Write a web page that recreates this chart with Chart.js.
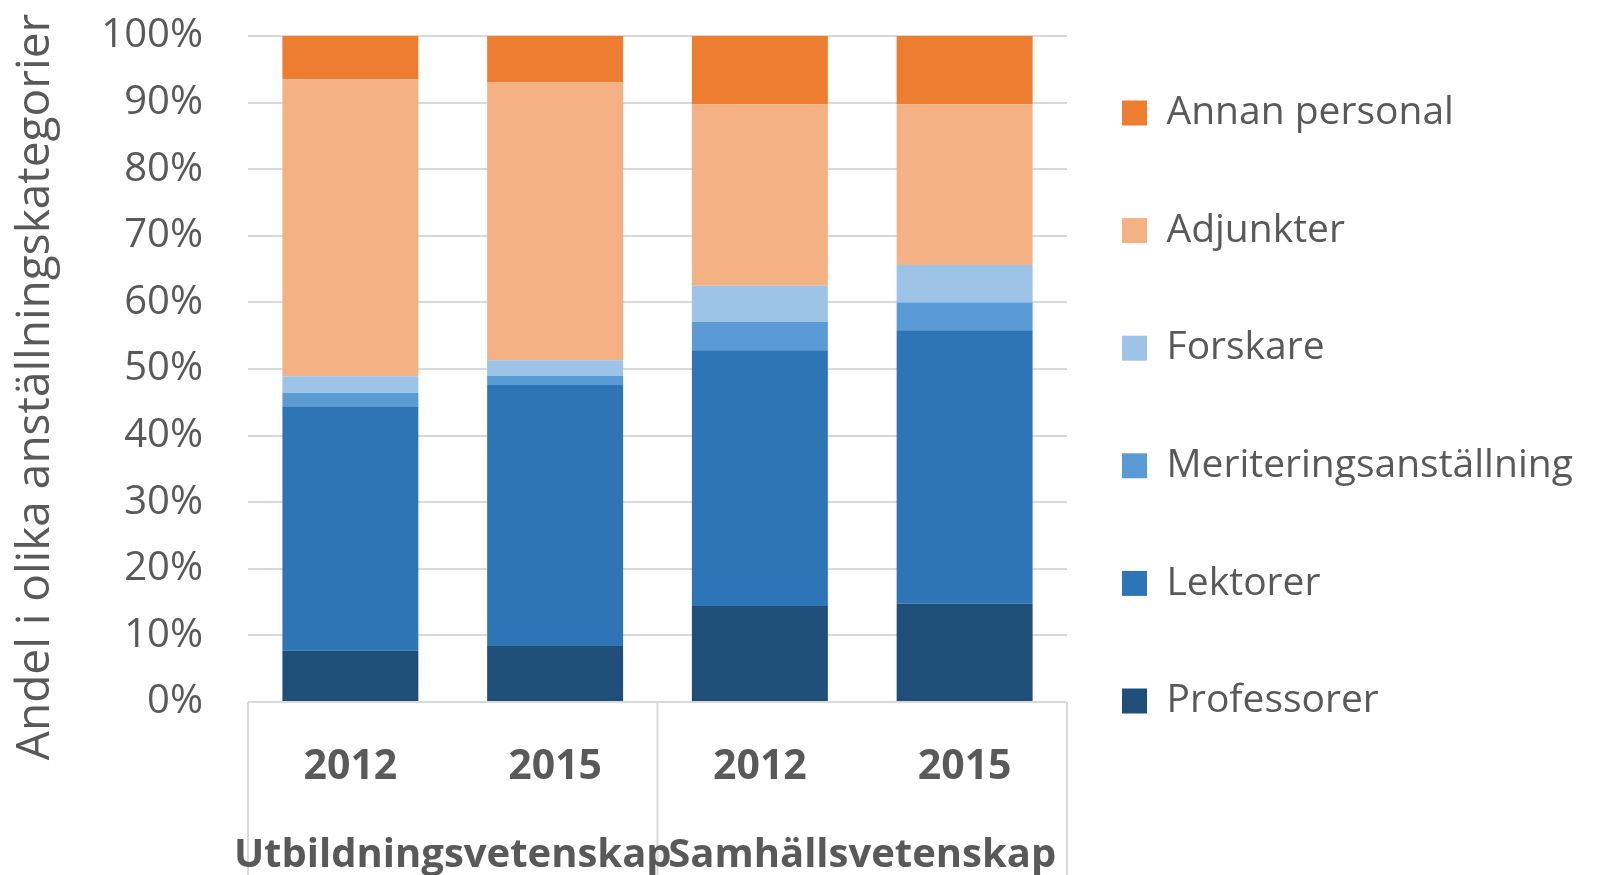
<!DOCTYPE html>
<html>
<head>
<meta charset="utf-8">
<script src="https://cdn.jsdelivr.net/npm/chart.js@4.4.1/dist/chart.umd.min.js"></script>
<style>
  html, body { margin: 0; padding: 0; background: #ffffff; }
  canvas { display: block; }
</style>
</head>
<body>
<canvas id="c" width="1604" height="875"></canvas>
<script>
// ---- data ----
const years = ['2012', '2015', '2012', '2015'];
const groups = ['Utbildningsvetenskap', 'Samhällsvetenskap'];
const seriesNames = ['Professorer', 'Lektorer', 'Meriteringsanställning', 'Forskare', 'Adjunkter', 'Annan personal'];
const professorer = [7.7, 8.4, 14.4, 14.8];
const lektorer = [36.6, 39.2, 38.4, 41.0];
const meritering = [2.1, 1.4, 4.3, 4.2];
const forskare = [2.5, 2.3, 5.4, 5.6];
const adjunkter = [44.6, 41.7, 27.2, 24.1];
const annan = [6.5, 7.0, 10.3, 10.3];
const yTicks = [0, 10, 20, 30, 40, 50, 60, 70, 80, 90, 100];
const yTitle = 'Andel i olika anställningskategorier';

const colors = ['#1F4E79', '#2E75B6', '#5B9BD5', '#9DC3E6', '#F4B183', '#ED7D31'];
const seriesValues = [professorer, lektorer, meritering, forskare, adjunkter, annan];
const TEXT = '#595959';
const GRID = '#d9d9d9';
const FONT = "'Open Sans', 'Noto Sans', sans-serif";

const datasets = seriesNames.map((name, i) => ({
  label: name,
  data: seriesValues[i],
  backgroundColor: colors[i],
  borderWidth: 0,
  barPercentage: 0.664,
  categoryPercentage: 1.0,
  xAxisID: 'x',
  yAxisID: 'y'
}));

const LEGEND_LEFT = 1112;

// legend width control + separator lines
const layoutPlugin = {
  id: 'layoutTweaks',
  beforeUpdate(chart) {
    const lg = chart.legend;
    if (lg && !lg._patched) {
      const fit = lg.fit;
      lg.fit = function () { fit.call(this); this.width = 1604 - LEGEND_LEFT; };
      lg._patched = true;
    }
  },
  beforeDraw(chart) {
    const x = chart.scales.x;
    const ca = chart.chartArea;
    const mid = (x.getPixelForValue(1) + x.getPixelForValue(2)) / 2;
    const ctx = chart.ctx;
    ctx.save();
    ctx.strokeStyle = GRID;
    ctx.lineWidth = 2;
    [x.left, mid, x.right].forEach(px => {
      ctx.beginPath();
      ctx.moveTo(px, ca.bottom);
      ctx.lineTo(px, chart.height);
      ctx.stroke();
    });
    ctx.restore();
  }
};

new Chart(document.getElementById('c'), {
  type: 'bar',
  data: { labels: years, datasets },
  options: {
    responsive: false,
    devicePixelRatio: 1,
    animation: false,
    layout: { padding: { top: 36, left: 0, right: 0, bottom: 0 } },
    plugins: {
      tooltip: { enabled: false },
      legend: {
        position: 'right',
        align: 'start',
        reverse: true,
        title: { display: true, text: '', font: { size: 10, lineHeight: 1 }, padding: { top: 37.5, bottom: 0 } },
        labels: {
          color: TEXT,
          boxWidth: 25,
          boxHeight: 25,
          padding: 10,
          font: { family: FONT, size: 39, lineHeight: 107.6 / 39 },
          generateLabels(chart) {
            return chart.data.datasets.map((ds, i) => ({
              text: [ds.label],
              fillStyle: ds.backgroundColor,
              strokeStyle: ds.backgroundColor,
              lineWidth: 0,
              hidden: false,
              datasetIndex: i,
              fontColor: TEXT
            }));
          }
        }
      }
    },
    scales: {
      x: {
        type: 'category',
        position: 'bottom',
        stacked: true,
        weight: 0,
        grid: { display: false },
        border: { display: false },
        ticks: { color: TEXT, padding: 32.5, autoSkip: false, maxRotation: 0, minRotation: 0,
                 font: { family: FONT, size: 41, weight: 'bold' } },
        afterFit(s) { s.height = 86.6; }
      },
      x2: {
        type: 'category',
        position: 'bottom',
        labels: groups,
        offset: true,
        weight: 1,
        grid: { display: false },
        border: { display: false },
        ticks: { color: TEXT, padding: 35, autoSkip: false, maxRotation: 0, minRotation: 0,
                 font: { family: FONT, size: 40, weight: 'bold' } },
        afterFit(s) { s.height = 86.4; s.paddingLeft = 0; s.paddingRight = 0; }
      },
      y: {
        stacked: true,
        min: 0,
        max: 100,
        position: 'left',
        grid: { color: GRID, lineWidth: 2, drawTicks: false },
        border: { display: false },
        afterBuildTicks(s) { s.ticks = yTicks.map(v => ({ value: v })); },
        ticks: {
          color: TEXT,
          padding: 45,
          font: { family: FONT, size: 40 },
          callback: v => v + '%'
        },
        title: {
          display: true,
          text: yTitle + '\u00a0\u00a0\u00a0',
          color: TEXT,
          padding: { top: 8, bottom: 0 },
          font: { family: FONT, size: 46 }
        },
        afterFit(s) { s.width = 248; s.paddingTop = 0; s.paddingBottom = 0; }
      },
      y2: {
        type: 'linear',
        position: 'right',
        display: true,
        grid: { display: false },
        border: { display: false },
        ticks: { display: false },
        afterFit(s) { s.width = LEGEND_LEFT - 1067; s.paddingTop = 0; s.paddingBottom = 0; }
      }
    }
  },
  plugins: [layoutPlugin]
});
</script>
</body>
</html>
